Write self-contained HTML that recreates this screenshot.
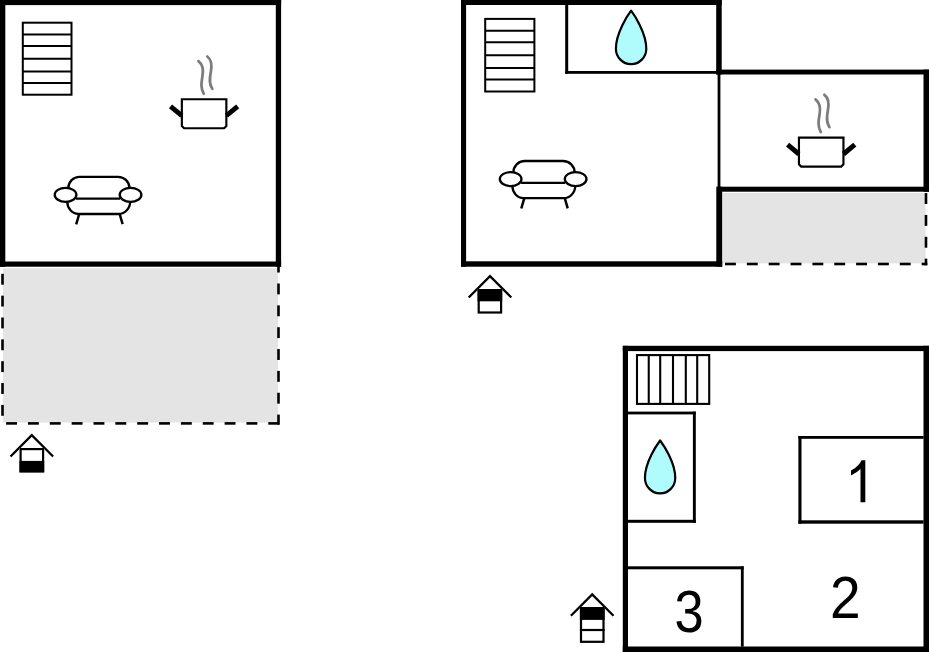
<!DOCTYPE html>
<html><head><meta charset="utf-8"><title>Floor plan</title>
<style>
html,body{margin:0;padding:0;background:#fff;}
body{width:929px;height:652px;overflow:hidden;font-family:"Liberation Sans",sans-serif;}
svg{display:block;}
</style></head>
<body>
<svg width="929" height="652" viewBox="0 0 929 652">
<rect x="0" y="0" width="929" height="652" fill="#fff"/>
<rect x="3.00" y="268.30" width="275.00" height="154.30" fill="#e4e4e4"/>
<rect x="722.80" y="193.00" width="202.80" height="70.40" fill="#e4e4e4"/>
<rect x="1.20" y="273.80" width="2.60" height="10.90" fill="#000"/>
<rect x="1.20" y="295.65" width="2.60" height="10.90" fill="#000"/>
<rect x="1.20" y="317.50" width="2.60" height="10.90" fill="#000"/>
<rect x="1.20" y="339.35" width="2.60" height="10.90" fill="#000"/>
<rect x="1.20" y="361.20" width="2.60" height="10.90" fill="#000"/>
<rect x="1.20" y="383.05" width="2.60" height="10.90" fill="#000"/>
<rect x="1.20" y="404.90" width="2.60" height="10.90" fill="#000"/>
<rect x="277.20" y="261.65" width="2.60" height="10.90" fill="#000"/>
<rect x="277.20" y="283.50" width="2.60" height="10.90" fill="#000"/>
<rect x="277.20" y="305.35" width="2.60" height="10.90" fill="#000"/>
<rect x="277.20" y="327.20" width="2.60" height="10.90" fill="#000"/>
<rect x="277.20" y="349.05" width="2.60" height="10.90" fill="#000"/>
<rect x="277.20" y="370.90" width="2.60" height="10.90" fill="#000"/>
<rect x="277.20" y="392.75" width="2.60" height="10.90" fill="#000"/>
<rect x="277.20" y="414.60" width="2.60" height="10.10" fill="#000"/>
<rect x="6.10" y="422.10" width="10.90" height="2.60" fill="#000"/>
<rect x="27.95" y="422.10" width="10.90" height="2.60" fill="#000"/>
<rect x="49.80" y="422.10" width="10.90" height="2.60" fill="#000"/>
<rect x="71.65" y="422.10" width="10.90" height="2.60" fill="#000"/>
<rect x="93.50" y="422.10" width="10.90" height="2.60" fill="#000"/>
<rect x="115.35" y="422.10" width="10.90" height="2.60" fill="#000"/>
<rect x="137.20" y="422.10" width="10.90" height="2.60" fill="#000"/>
<rect x="159.05" y="422.10" width="10.90" height="2.60" fill="#000"/>
<rect x="180.90" y="422.10" width="10.90" height="2.60" fill="#000"/>
<rect x="202.75" y="422.10" width="10.90" height="2.60" fill="#000"/>
<rect x="224.60" y="422.10" width="10.90" height="2.60" fill="#000"/>
<rect x="246.45" y="422.10" width="10.90" height="2.60" fill="#000"/>
<rect x="268.30" y="422.10" width="10.90" height="2.60" fill="#000"/>
<rect x="924.70" y="193.10" width="2.60" height="10.90" fill="#000"/>
<rect x="924.70" y="214.95" width="2.60" height="10.90" fill="#000"/>
<rect x="924.70" y="236.80" width="2.60" height="10.90" fill="#000"/>
<rect x="924.70" y="258.65" width="2.60" height="6.65" fill="#000"/>
<rect x="725.00" y="262.70" width="10.90" height="2.60" fill="#000"/>
<rect x="746.85" y="262.70" width="10.90" height="2.60" fill="#000"/>
<rect x="768.70" y="262.70" width="10.90" height="2.60" fill="#000"/>
<rect x="790.55" y="262.70" width="10.90" height="2.60" fill="#000"/>
<rect x="812.40" y="262.70" width="10.90" height="2.60" fill="#000"/>
<rect x="834.25" y="262.70" width="10.90" height="2.60" fill="#000"/>
<rect x="856.10" y="262.70" width="10.90" height="2.60" fill="#000"/>
<rect x="877.95" y="262.70" width="10.90" height="2.60" fill="#000"/>
<rect x="899.80" y="262.70" width="10.90" height="2.60" fill="#000"/>
<rect x="921.65" y="262.70" width="5.65" height="2.60" fill="#000"/>
<rect x="0.00" y="0.00" width="281.10" height="5.10" fill="#000"/>
<rect x="0.00" y="0.00" width="5.30" height="266.70" fill="#000"/>
<rect x="275.80" y="0.00" width="5.30" height="266.70" fill="#000"/>
<rect x="0.00" y="261.50" width="281.10" height="5.20" fill="#000"/>
<rect x="461.00" y="0.00" width="260.70" height="5.00" fill="#000"/>
<rect x="461.00" y="0.00" width="5.10" height="266.70" fill="#000"/>
<rect x="461.00" y="261.30" width="261.20" height="5.40" fill="#000"/>
<rect x="716.20" y="0.00" width="5.50" height="74.50" fill="#000"/>
<rect x="717.60" y="74.00" width="2.80" height="113.50" fill="#000"/>
<rect x="716.30" y="186.70" width="5.90" height="80.00" fill="#000"/>
<rect x="565.20" y="0.00" width="3.00" height="73.80" fill="#000"/>
<rect x="565.20" y="71.00" width="151.80" height="2.80" fill="#000"/>
<rect x="716.20" y="69.60" width="212.80" height="4.90" fill="#000"/>
<rect x="923.50" y="69.60" width="5.50" height="122.10" fill="#000"/>
<rect x="717.60" y="186.70" width="211.40" height="5.00" fill="#000"/>
<rect x="622.80" y="345.80" width="306.20" height="5.30" fill="#000"/>
<rect x="622.80" y="345.80" width="5.20" height="306.20" fill="#000"/>
<rect x="923.50" y="345.80" width="5.50" height="306.20" fill="#000"/>
<rect x="622.80" y="646.50" width="306.20" height="5.50" fill="#000"/>
<rect x="628.00" y="411.60" width="67.80" height="2.80" fill="#000"/>
<rect x="692.90" y="411.60" width="2.90" height="111.20" fill="#000"/>
<rect x="628.00" y="519.80" width="67.80" height="3.00" fill="#000"/>
<rect x="798.40" y="436.00" width="125.20" height="2.80" fill="#000"/>
<rect x="798.40" y="436.00" width="3.10" height="87.70" fill="#000"/>
<rect x="798.40" y="520.30" width="125.20" height="3.40" fill="#000"/>
<rect x="628.00" y="566.30" width="115.70" height="3.00" fill="#000"/>
<rect x="740.90" y="566.30" width="2.80" height="80.30" fill="#000"/>
<rect x="22.80" y="22.70" width="48.70" height="72.00" fill="none" stroke="#000" stroke-width="2.0"/>
<line x1="22.80" y1="34.45" x2="71.50" y2="34.45" stroke="#000" stroke-width="2.0"/>
<line x1="22.80" y1="45.90" x2="71.50" y2="45.90" stroke="#000" stroke-width="2.0"/>
<line x1="22.80" y1="58.70" x2="71.50" y2="58.70" stroke="#000" stroke-width="2.0"/>
<line x1="22.80" y1="71.50" x2="71.50" y2="71.50" stroke="#000" stroke-width="2.0"/>
<line x1="22.80" y1="82.90" x2="71.50" y2="82.90" stroke="#000" stroke-width="2.0"/>
<rect x="485.20" y="18.90" width="49.20" height="72.60" fill="none" stroke="#000" stroke-width="2.0"/>
<line x1="485.20" y1="30.75" x2="534.40" y2="30.75" stroke="#000" stroke-width="2.0"/>
<line x1="485.20" y1="42.29" x2="534.40" y2="42.29" stroke="#000" stroke-width="2.0"/>
<line x1="485.20" y1="55.20" x2="534.40" y2="55.20" stroke="#000" stroke-width="2.0"/>
<line x1="485.20" y1="68.11" x2="534.40" y2="68.11" stroke="#000" stroke-width="2.0"/>
<line x1="485.20" y1="79.60" x2="534.40" y2="79.60" stroke="#000" stroke-width="2.0"/>
<rect x="637.0" y="355.1" width="72.2" height="48.8" fill="none" stroke="#000" stroke-width="2.1"/>
<line x1="648.75" y1="355" x2="648.75" y2="404" stroke="#000" stroke-width="2.1"/>
<line x1="660.20" y1="355" x2="660.20" y2="404" stroke="#000" stroke-width="2.1"/>
<line x1="673.00" y1="355" x2="673.00" y2="404" stroke="#000" stroke-width="2.1"/>
<line x1="685.80" y1="355" x2="685.80" y2="404" stroke="#000" stroke-width="2.1"/>
<line x1="697.20" y1="355" x2="697.20" y2="404" stroke="#000" stroke-width="2.1"/>
<g transform="translate(0.00,0.00)"><path d="M181.85,99.25 H226.35 V126.0 L224.1,128.25 H184.1 L181.85,126.0 Z" fill="none" stroke="#000" stroke-width="2.15" stroke-linejoin="miter"/><line x1="170.5" y1="106.4" x2="181.8" y2="115.7" stroke="#000" stroke-width="4.9"/><line x1="237.7" y1="106.4" x2="226.4" y2="115.7" stroke="#000" stroke-width="4.9"/><path d="M198.4,61.1 C203.5,65 203.5,70 202.5,76 C201.3,83 200.5,88 203.7,93.7" fill="none" stroke="#7d7d7d" stroke-width="2.75" stroke-linecap="round"/><path d="M207.3,56.5 C212,60 212,66 210.8,72 C209.5,79 209,84 212.3,88.8" fill="none" stroke="#7d7d7d" stroke-width="2.75" stroke-linecap="round"/></g>
<g transform="translate(617.10,38.30)"><path d="M181.85,99.25 H226.35 V126.0 L224.1,128.25 H184.1 L181.85,126.0 Z" fill="none" stroke="#000" stroke-width="2.15" stroke-linejoin="miter"/><line x1="170.5" y1="106.4" x2="181.8" y2="115.7" stroke="#000" stroke-width="4.9"/><line x1="237.7" y1="106.4" x2="226.4" y2="115.7" stroke="#000" stroke-width="4.9"/><path d="M198.4,61.1 C203.5,65 203.5,70 202.5,76 C201.3,83 200.5,88 203.7,93.7" fill="none" stroke="#7d7d7d" stroke-width="2.75" stroke-linecap="round"/><path d="M207.3,56.5 C212,60 212,66 210.8,72 C209.5,79 209,84 212.3,88.8" fill="none" stroke="#7d7d7d" stroke-width="2.75" stroke-linecap="round"/></g>
<g transform="translate(0.00,0.00)" fill="none" stroke="#000" stroke-width="2.3"><path d="M68.3,188.2 A11.2,11.4 0 0 1 79.5,176.8 H118.0 A11.5,11.4 0 0 1 129.5,188.2"/><line x1="76" y1="198.7" x2="120" y2="198.7"/><path d="M67.2,201.3 A11.3,12.7 0 0 0 78.5,214.0 H118.6 A11.6,12.7 0 0 0 130.2,201.3"/><ellipse cx="65.55" cy="194.85" rx="10.85" ry="7.0"/><ellipse cx="130.55" cy="194.85" rx="10.85" ry="7.0"/><line x1="79.2" y1="214" x2="76.2" y2="224.3" stroke-width="2.5"/><line x1="119.7" y1="214" x2="122.6" y2="224.1" stroke-width="2.5"/></g>
<g transform="translate(445.10,-15.80)" fill="none" stroke="#000" stroke-width="2.3"><path d="M68.3,188.2 A11.2,11.4 0 0 1 79.5,176.8 H118.0 A11.5,11.4 0 0 1 129.5,188.2"/><line x1="76" y1="198.7" x2="120" y2="198.7"/><path d="M67.2,201.3 A11.3,12.7 0 0 0 78.5,214.0 H118.6 A11.6,12.7 0 0 0 130.2,201.3"/><ellipse cx="65.55" cy="194.85" rx="10.85" ry="7.0"/><ellipse cx="130.55" cy="194.85" rx="10.85" ry="7.0"/><line x1="79.2" y1="214" x2="76.2" y2="224.3" stroke-width="2.5"/><line x1="119.7" y1="214" x2="122.6" y2="224.1" stroke-width="2.5"/></g>
<path d="M631.10,10.60 C634.14,14.60 646.30,32.74 646.30,48.70 A15.20,15.50 0 0 1 615.90,48.70 C615.90,32.74 628.06,14.60 631.10,10.60 Z" fill="#b0fbfc" stroke="#000" stroke-width="2.2" stroke-linejoin="round"/>
<path d="M660.10,440.50 C663.13,444.50 675.25,462.04 675.25,477.95 A15.15,15.45 0 0 1 644.95,477.95 C644.95,462.04 657.07,444.50 660.10,440.50 Z" fill="#b0fbfc" stroke="#000" stroke-width="2.2" stroke-linejoin="round"/>
<polyline points="10.50,456.50 31.80,435.20 53.10,456.50" fill="none" stroke="#000" stroke-width="2.3" stroke-linejoin="miter"/><rect x="19.50" y="448.00" width="24.70" height="24.40" fill="#fff"/><rect x="19.50" y="460.90" width="24.70" height="11.50" fill="#000"/><rect x="20.60" y="449.10" width="22.50" height="22.20" fill="none" stroke="#000" stroke-width="2.2"/>
<polyline points="468.70,297.50 490.00,276.20 511.30,297.50" fill="none" stroke="#000" stroke-width="2.3" stroke-linejoin="miter"/><rect x="477.60" y="289.10" width="24.60" height="24.50" fill="#fff"/><rect x="477.60" y="289.10" width="24.60" height="12.20" fill="#000"/><rect x="478.70" y="290.20" width="22.40" height="22.30" fill="none" stroke="#000" stroke-width="2.2"/>
<polyline points="570.90,615.80 592.20,594.50 613.50,615.80" fill="none" stroke="#000" stroke-width="2.3" stroke-linejoin="miter"/><rect x="579.90" y="607.10" width="24.70" height="35.80" fill="#fff"/><rect x="579.90" y="607.10" width="24.70" height="12.80" fill="#000"/><rect x="581.00" y="608.20" width="22.50" height="33.60" fill="none" stroke="#000" stroke-width="2.2"/><line x1="579.90" y1="630.00" x2="604.60" y2="630.00" stroke="#000" stroke-width="2.2"/>
<path d="M865.3,502.3 H860.5 V469.0 Q857.2,472.4 851.0,475.4 V470.6 Q855.4,468.4 858.3,465.0 Q860.6,462.5 861.6,460.2 H865.3 Z" fill="#000"/>
<text transform="translate(845.3,617.9) scale(0.925,1)" x="0" y="0" font-size="59.6" text-anchor="middle" font-family="Liberation Sans, sans-serif">2</text>
<text transform="translate(689.0,631.8) scale(0.89,1)" x="0" y="0" font-size="59" text-anchor="middle" font-family="Liberation Sans, sans-serif">3</text>
</svg>
</body></html>
